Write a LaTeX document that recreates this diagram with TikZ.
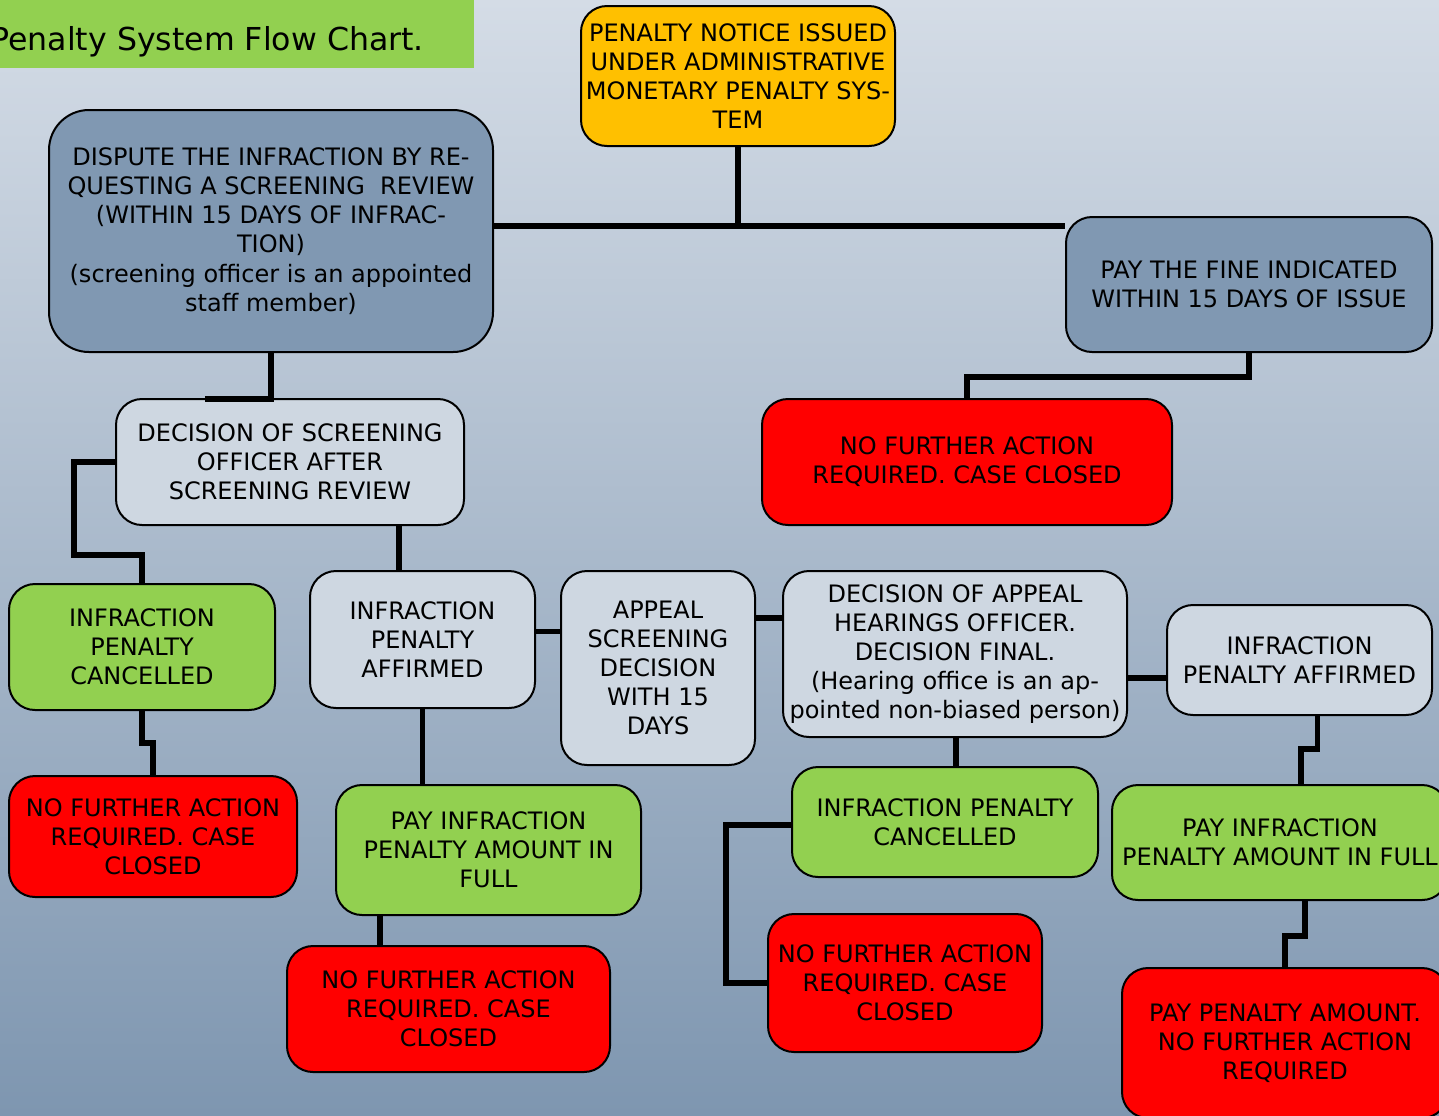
\documentclass[tikz,border=0pt]{standalone}
\usepackage{fontspec}
\setmainfont{DejaVu Sans}
\definecolor{bgtop}{RGB}{212,220,230}
\definecolor{bgbot}{RGB}{126,150,176}
\definecolor{slate}{RGB}{128,152,178}
\definecolor{light}{RGB}{206,215,225}
\definecolor{lgreen}{RGB}{146,208,80}
\definecolor{gold}{RGB}{255,192,0}
\definecolor{pred}{RGB}{255,0,0}
\begin{document}
\begin{tikzpicture}[x=0.5pt,y=-0.5pt,
  box/.style={draw=black,line width=1pt,rounded corners=13pt,inner sep=0pt,align=center,
    font=\fontsize{12pt}{14.6pt}\selectfont},
  conn/.style={line width=2.6pt,black}]
\shade[top color=bgtop,bottom color=bgbot] (0,0) rectangle (1439,1115);
\useasboundingbox (0,0) rectangle (1439,1115);
\fill[lgreen] (0,0) rectangle (474,68);
\node[anchor=base west,inner sep=0pt,font=\fontsize{15.8pt}{18pt}\selectfont] (title) at (-10,50) {Penalty System Flow Chart.};

\node[box,fill=gold,minimum width=157pt,minimum height=70pt] (notice) at (738,76)
  {PENALTY NOTICE ISSUED\\UNDER ADMINISTRATIVE\\MONETARY PENALTY SYS-\\TEM};
\node[box,fill=slate,rounded corners=20pt,minimum width=222pt,minimum height=121pt] (dispute) at (271,231)
  {DISPUTE THE INFRACTION BY RE-\\QUESTING A SCREENING\ \ REVIEW\\(WITHIN 15 DAYS OF INFRAC-\\TION)\\(screening officer is an appointed\\staff member)};
\node[box,fill=slate,minimum width=183pt,minimum height=67.5pt] (payfine) at (1249,284.5)
  {PAY THE FINE INDICATED\\WITHIN 15 DAYS OF ISSUE};
\node[box,fill=pred,minimum width=205pt,minimum height=63pt] (closed1) at (967,462)
  {NO FURTHER ACTION\\REQUIRED. CASE CLOSED};
\node[box,fill=light,minimum width=174pt,minimum height=63pt] (screen) at (290,462)
  {DECISION OF SCREENING\\OFFICER AFTER\\SCREENING REVIEW};
\node[box,fill=lgreen,minimum width=133pt,minimum height=63pt] (cancel1) at (142,647)
  {INFRACTION\\PENALTY\\CANCELLED};
\node[box,fill=light,minimum width=112.5pt,minimum height=68.5pt] (affirm1) at (422.5,639.5)
  {INFRACTION\\PENALTY\\AFFIRMED};
\node[box,fill=light,minimum width=97pt,minimum height=97pt] (appeal) at (658,668)
  {APPEAL\\SCREENING\\DECISION\\WITH 15\\DAYS};
\node[box,fill=light,minimum width=172pt,minimum height=83pt] (hearing) at (955,654)
  {DECISION OF APPEAL\\HEARINGS OFFICER.\\DECISION FINAL.\\(Hearing office is an ap-\\pointed non-biased person)};
\node[box,fill=light,minimum width=132.5pt,minimum height=55pt] (affirm2) at (1299.5,660)
  {INFRACTION\\PENALTY AFFIRMED};
\node[box,fill=pred,minimum width=144pt,minimum height=60.5pt] (closed2) at (153,836.5)
  {NO FURTHER ACTION\\REQUIRED. CASE\\CLOSED};
\node[box,fill=lgreen,minimum width=152.5pt,minimum height=65pt] (pay1) at (488.5,850)
  {PAY INFRACTION\\PENALTY AMOUNT IN\\FULL};
\node[box,fill=pred,minimum width=161.5pt,minimum height=63pt] (closed3) at (448.5,1009)
  {NO FURTHER ACTION\\REQUIRED. CASE\\CLOSED};
\node[box,fill=lgreen,minimum width=153pt,minimum height=55pt] (cancel2) at (945,822)
  {INFRACTION PENALTY\\CANCELLED};
\node[box,fill=pred,minimum width=137pt,minimum height=69pt] (closed4) at (905,983)
  {NO FURTHER ACTION\\REQUIRED. CASE\\CLOSED};
\node[box,fill=lgreen,minimum width=168pt,minimum height=57.5pt] (pay2) at (1280,842.5)
  {PAY INFRACTION\\PENALTY AMOUNT IN FULL};
\node[box,fill=pred,minimum width=163pt,minimum height=75pt] (final) at (1285,1043)
  {PAY PENALTY AMOUNT.\\NO FURTHER ACTION\\REQUIRED};

% connectors
\coordinate (j) at (738,226);
\draw[conn] (notice.south) -- (j);
\draw[conn] (dispute.east |- j) -- (payfine.west |- j);
\coordinate (d1) at (205,399);
\draw[conn] (dispute.south) |- (d1);
\draw[conn] (payfine.south) -- ++(0,24) -| (closed1.north);
\draw[conn] (screen.west) -- ++(-41,0) -- ++(0,93) -| (cancel1.north);
\draw[conn] ([xshift=54.5pt]screen.south) -- ([xshift=-11.75pt]affirm1.north);
\draw[conn] ([yshift=4pt]affirm1.east) -- ([yshift=4pt]affirm1.east -| appeal.west);
\draw[conn] ([yshift=25pt]appeal.east) -- ([yshift=18pt]hearing.west);
\draw[conn] ([yshift=-12pt]hearing.east) -- ([yshift=-9pt]affirm2.west);
\draw[conn] ([xshift=0.5pt]hearing.south) -- ([xshift=0.5pt]hearing.south |- cancel2.north);
\draw[conn] ([yshift=-1.5pt]cancel2.west) -- ++(-65,0) |- (closed4.west);
\draw[conn] (cancel1.south) -- ++(0,32) -| (closed2.north);
\draw[conn] (affirm1.south) -- (affirm1.south |- pay1.north);
\draw[conn] ([xshift=-54.25pt]pay1.south) -- ([xshift=-34.25pt]closed3.north);
\draw[conn] ([xshift=9pt]affirm2.south) -- ++(0,33) -| ([xshift=10.5pt]pay2.north);
\draw[conn] ([xshift=12.5pt]pay2.south) -- ++(0,35) -| (final.north);
\end{tikzpicture}
\end{document}
